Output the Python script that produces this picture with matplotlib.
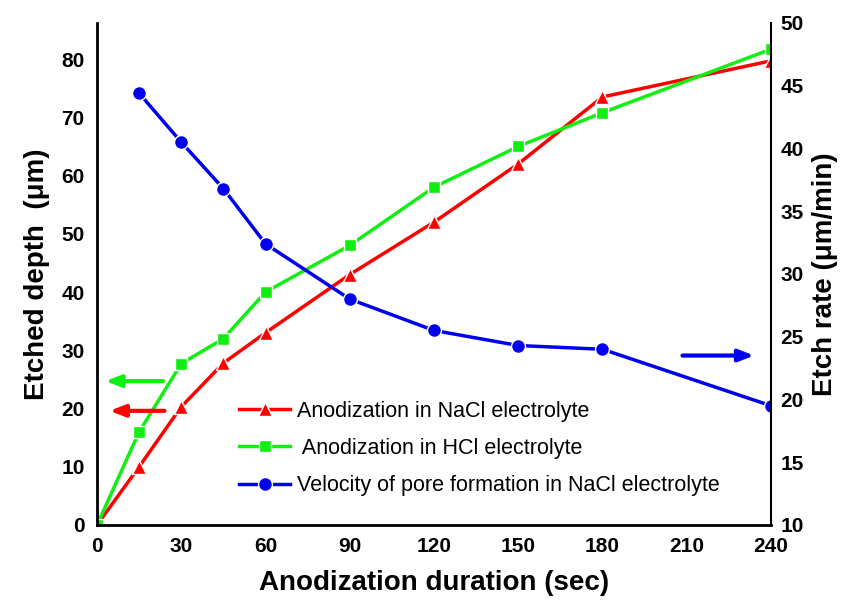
import matplotlib
matplotlib.use("Agg")
import matplotlib.pyplot as plt

plt.rcParams["font.family"] = ["Liberation Sans", "DejaVu Sans"]

# --- data ---
duration = [0, 15, 30, 45, 60, 90, 120, 150, 180, 240]
depth_nacl = [0, 10, 20.3, 27.8, 33, 43, 52, 62, 73.5, 79.7]
depth_hcl = [0, 16, 27.7, 32, 40, 48, 58, 65, 70.8, 81.7]

rate_x = [15, 30, 45, 60, 90, 120, 150, 180, 240]
rate_nacl = [44.4, 40.5, 36.8, 32.4, 28.0, 25.5, 24.3, 24.0, 19.5]

RED = "#ff0000"
GREEN = "#11ee11"
BLUE = "#0000ee"

fig = plt.figure(figsize=(8.46, 6.03), dpi=100)
ax = fig.add_axes([0.1147, 0.1294, 0.7966, 0.8325])
ax2 = ax.twinx()

l1, = ax.plot(duration, depth_nacl, color=RED, lw=2.5, marker="^", ms=10,
              mec="white", mew=1.0, label="Anodization in NaCl electrolyte")
l2, = ax.plot(duration, depth_hcl, color=GREEN, lw=2.5, marker="s", ms=8,
              mec="white", mew=1.0, label=" Anodization in HCl electrolyte")
l3, = ax2.plot(rate_x, rate_nacl, color=BLUE, lw=2.5, marker="o", ms=10,
               mec="white", mew=1.0, label="Velocity of pore formation in NaCl electrolyte")

ax.set_xlim(0, 240)
ax.set_ylim(0, 86.2)
ax2.set_ylim(10, 50)
ax.set_xticks(range(0, 241, 30))
ax.set_yticks(range(0, 81, 10))
ax2.set_yticks(range(10, 51, 5))

ax.tick_params(length=0, labelsize=15, pad=9)
for lab in ax.get_xticklabels() + ax.get_yticklabels():
    lab.set_fontweight("bold")
ax2.tick_params(length=0, labelsize=15, pad=7)
for lab in ax2.get_yticklabels():
    lab.set_fontweight("semibold")

for a in (ax, ax2):
    a.spines["top"].set_visible(False)
ax.spines["left"].set_linewidth(2)
ax.spines["bottom"].set_linewidth(2)
ax2.spines["right"].set_linewidth(1.5)
ax2.spines["left"].set_visible(False)
ax2.spines["bottom"].set_visible(False)
ax.spines["right"].set_visible(False)

ax.set_xlabel("Anodization duration (sec)", fontsize=20, fontweight="bold", labelpad=10)
ax.set_ylabel("Etched depth  (\u03bcm)", fontsize=20, fontweight="bold", labelpad=8)
ax2.set_ylabel("Etch rate (\u03bcm/min)", fontsize=20, fontweight="bold", labelpad=6)

# arrows pointing at the matching axis
arrow = "-|>,head_length=0.9,head_width=0.35"
ax.annotate("", xy=(2, 24.7), xytext=(24.5, 24.7),
            arrowprops=dict(arrowstyle=arrow, color=GREEN, lw=3))
ax.annotate("", xy=(3.5, 19.6), xytext=(25, 19.6),
            arrowprops=dict(arrowstyle=arrow, color=RED, lw=3))
ax2.annotate("", xy=(235, 23.5), xytext=(207.5, 23.5),
             arrowprops=dict(arrowstyle=arrow, color=BLUE, lw=3))

ax.legend(handles=[l1, l2, l3], loc="upper left",
          bbox_to_anchor=(228 / 846, 1 - 390 / 603), bbox_transform=fig.transFigure,
          frameon=False, fontsize=15.5, handlelength=2.4, labelspacing=0.75,
          handletextpad=0.3, borderpad=0)

fig.savefig("out.png", dpi=100)
